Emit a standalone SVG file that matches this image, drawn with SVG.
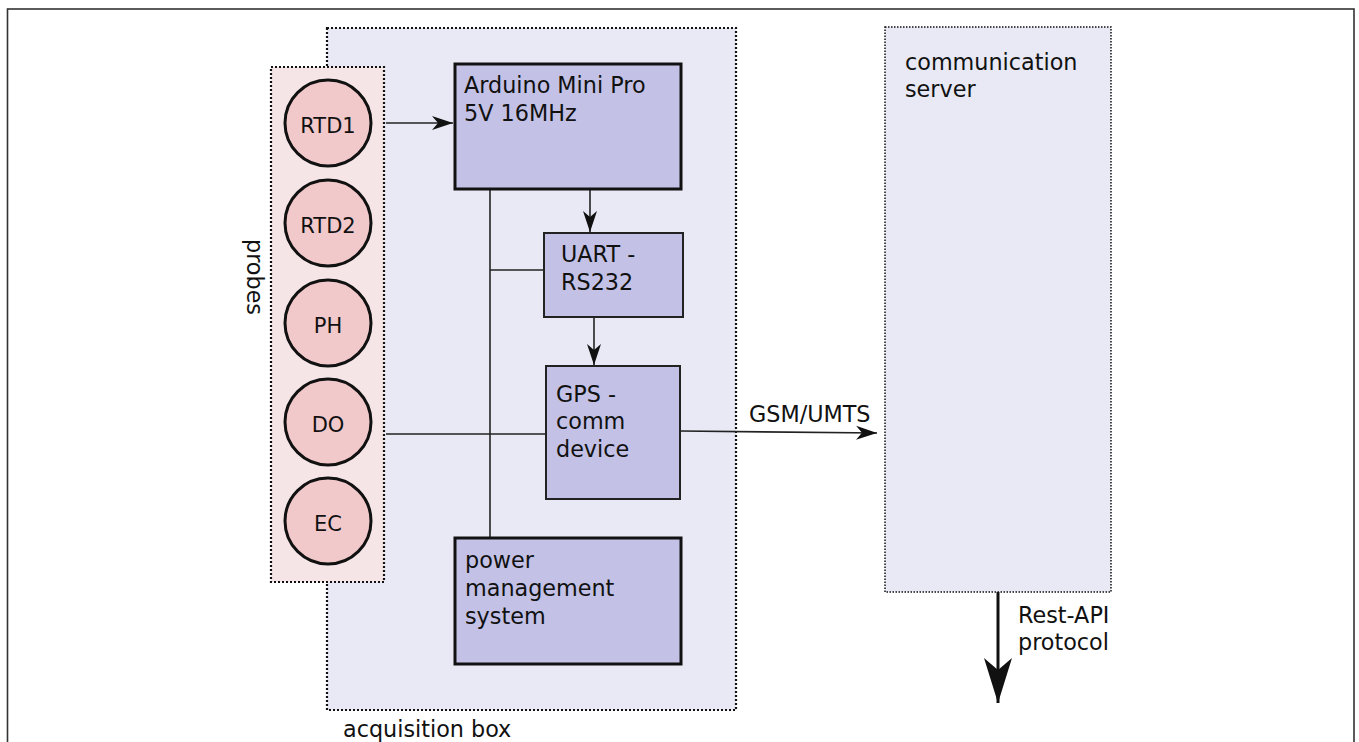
<svg xmlns="http://www.w3.org/2000/svg" width="1359" height="742" viewBox="0 0 1359 742">
<defs>
<style>
text{font-family:"DejaVu Sans","Liberation Sans",sans-serif;font-size:22.3px;fill:#111}
.lbl{font-size:21px;text-anchor:middle}
.probe{fill:#f2c9cb;stroke:#111;stroke-width:3}
.blk{fill:#c3c2e6;stroke:#111;stroke-width:3}
.blk2{fill:#c3c2e6;stroke:#222;stroke-width:2}
.cont{stroke:#111;stroke-width:2.2;stroke-dasharray:2 2}
.conn{fill:none;stroke:#222;stroke-width:1.6}
</style>
<marker id="ah" markerUnits="userSpaceOnUse" markerWidth="22" markerHeight="16" viewBox="0 0 22 16" refX="21" refY="8" orient="auto">
<path d="M0,1 L21,8 L0,15 L6,8 z" fill="#111"/>
</marker>
<marker id="ahb" markerUnits="userSpaceOnUse" markerWidth="46" markerHeight="30" viewBox="0 0 46 30" refX="45" refY="15" orient="auto">
<path d="M0,1 L45,15 L0,29 L12,15 z" fill="#111"/>
</marker>
</defs>
<rect x="0" y="0" width="1359" height="742" fill="#fff"/>
<rect id="frame" x="7.5" y="9" width="1346.5" height="745" fill="none" stroke="#333" stroke-width="1.6"/>

<g id="acquisition-box">
<rect x="327" y="28" width="409" height="682" fill="#e8e9f4" class="cont"/>
<text x="343" y="737">acquisition box</text>
</g>

<g id="communication-server">
<rect x="885" y="27" width="226" height="565" fill="#e8e9f4" stroke="#111" stroke-width="1.5" stroke-dasharray="1.5 1.5"/>
<text x="905" y="70">communication</text>
<text x="905" y="97">server</text>
</g>

<g id="probes">
<rect x="271" y="67" width="113" height="515" fill="#f5e5e7" class="cont"/>
<text transform="translate(247,277) rotate(90)" text-anchor="middle">probes</text>
</g>

<g id="RTD1"><circle cx="328" cy="123" r="43" class="probe"/><text class="lbl" x="328" y="133">RTD1</text></g>
<g id="RTD2"><circle cx="328" cy="223" r="43" class="probe"/><text class="lbl" x="328" y="233">RTD2</text></g>
<g id="PH"><circle cx="328" cy="323" r="43" class="probe"/><text class="lbl" x="328" y="333">PH</text></g>
<g id="DO"><circle cx="328" cy="422" r="43" class="probe"/><text class="lbl" x="328" y="432">DO</text></g>
<g id="EC"><circle cx="328" cy="521" r="43" class="probe"/><text class="lbl" x="328" y="531">EC</text></g>

<g id="connectors">
<line class="conn" x1="490" y1="189" x2="490" y2="538"/>
<line class="conn" x1="490" y1="270" x2="544" y2="270"/>
<line class="conn" x1="386" y1="434" x2="546" y2="434"/>
<line class="conn" x1="386" y1="123" x2="453" y2="123" marker-end="url(#ah)"/>
<line class="conn" x1="590" y1="189" x2="590" y2="232" marker-end="url(#ah)"/>
<line class="conn" x1="594" y1="317" x2="594" y2="365" marker-end="url(#ah)"/>
<line class="conn" x1="680" y1="431" x2="877" y2="433" marker-end="url(#ah)"/>
<line x1="998" y1="592" x2="998" y2="703" stroke="#111" stroke-width="3" marker-end="url(#ahb)"/>
<text x="749" y="422">GSM/UMTS</text>
<text x="1018" y="623">Rest-API</text>
<text x="1018" y="650">protocol</text>
</g>

<g id="arduino">
<rect x="455" y="64" width="226" height="125" class="blk"/>
<text x="464" y="93">Arduino Mini Pro</text>
<text x="464" y="121">5V 16MHz</text>
</g>
<g id="uart">
<rect x="544" y="233" width="139" height="84" class="blk2"/>
<text x="561" y="262">UART -</text>
<text x="561" y="290">RS232</text>
</g>
<g id="gps">
<rect x="546" y="366" width="134" height="133" class="blk2"/>
<text x="556" y="402">GPS -</text>
<text x="556" y="429">comm</text>
<text x="556" y="457">device</text>
</g>
<g id="power">
<rect x="455" y="538" width="226" height="126" class="blk"/>
<text x="465" y="568">power</text>
<text x="465" y="596">management</text>
<text x="465" y="624">system</text>
</g>
</svg>
